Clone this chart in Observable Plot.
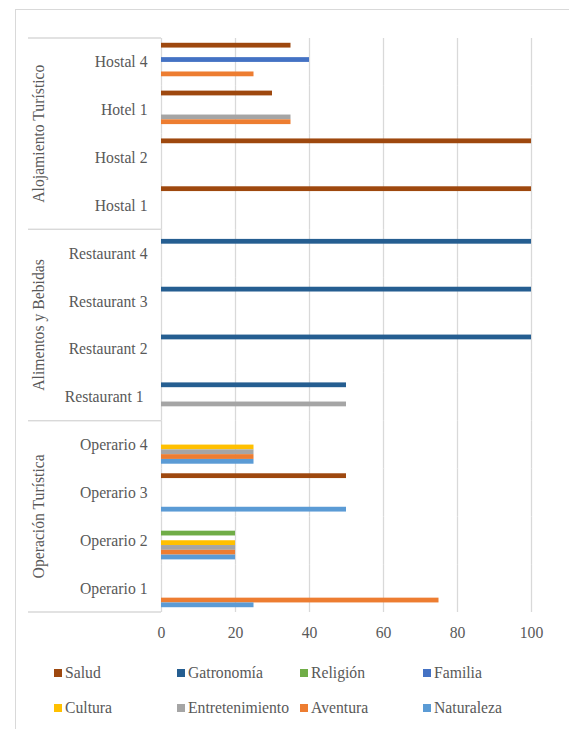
<!DOCTYPE html>
<html>
<head>
<meta charset="utf-8">
<script src="https://cdn.jsdelivr.net/npm/d3@7"></script>
<script src="https://cdn.jsdelivr.net/npm/@observablehq/plot@0.6"></script>
<style>
  html, body { margin: 0; padding: 0; background: #fff; }
  body { width: 569px; height: 729px; overflow: hidden; position: relative; }
  #border { position: absolute; left: 15px; top: 9px; width: 620px; height: 800px; border: 1px solid #d9d9d9; box-sizing: border-box; }
  #chart { position: absolute; left: 0; top: 0; }
  #legend { position: absolute; left: 54px; top: 663px; display: grid; grid-template-columns: repeat(4, 123px); row-gap: 15px;
            font-family: "Liberation Serif", "Times New Roman", serif; font-size: 15.7px; color: #595959; }
  .item { display: flex; align-items: center; height: 20px; white-space: nowrap; }
  .sw { width: 8px; height: 8px; margin-right: 3px; flex: none; }
</style>
</head>
<body>
<div id="border"></div>
<div id="chart"></div>
<div id="legend"></div>
<script>
// Categories, top to bottom as drawn
const categories = ["Hostal 4", "Hotel 1", "Hostal 2", "Hostal 1",
  "Restaurant 4", "Restaurant 3", "Restaurant 2", "Restaurant 1",
  "Operario 4", "Operario 3", "Operario 2", "Operario 1"];
const categoryLabels = ["Hostal 4", "Hotel 1", "Hostal 2", "Hostal 1",
  "Restaurant 4", "Restaurant 3", "Restaurant 2", "Restaurant 1\u00a0",
  "Operario 4", "Operario 3", "Operario 2", "Operario 1"];
const groupNames = ["Alojamiento Turístico", "Alimentos y Bebidas", "Operación Turística"];
const groupMembers = [
  ["Hostal 4", "Hotel 1", "Hostal 2", "Hostal 1"],
  ["Restaurant 4", "Restaurant 3", "Restaurant 2", "Restaurant 1"],
  ["Operario 4", "Operario 3", "Operario 2", "Operario 1"]
];
// Series in legend order (top slot to bottom slot inside each category)
const seriesNames = ["Salud", "Gatronomía", "Religión", "Familia", "Cultura", "Entretenimiento", "Aventura", "Naturaleza"];
const seriesColors = ["#9E480E", "#255E91", "#70AD47", "#4472C4", "#FFC000", "#A5A5A5", "#ED7D31", "#5B9BD5"];
// Values aligned with categories
const salud           = [35, 30, 100, 100, 0, 0, 0, 0, 0, 50, 0, 0];
const gatronomia      = [0, 0, 0, 0, 100, 100, 100, 50, 0, 0, 0, 0];
const religion        = [0, 0, 0, 0, 0, 0, 0, 0, 0, 0, 20, 0];
const familia         = [40, 0, 0, 0, 0, 0, 0, 0, 0, 0, 0, 0];
const cultura         = [0, 0, 0, 0, 0, 0, 0, 0, 25, 0, 20, 0];
const entretenimiento = [0, 35, 0, 0, 0, 0, 0, 50, 25, 0, 20, 0];
const aventura        = [25, 35, 0, 0, 0, 0, 0, 0, 25, 0, 20, 75];
const naturaleza      = [0, 0, 0, 0, 0, 0, 0, 0, 25, 50, 20, 25];
const xTicks = [0, 20, 40, 60, 80, 100];

const seriesValues = [salud, gatronomia, religion, familia, cultura, entretenimiento, aventura, naturaleza];
const rows = [];
seriesNames.forEach((s, si) => {
  categories.forEach((c, ci) => {
    const v = seriesValues[si][ci];
    if (v > 0) rows.push({category: c, series: s, value: v});
  });
});
const labelOf = new Map(categories.map((c, i) => [c, categoryLabels[i]]));

const font = "\"Liberation Serif\", \"Times New Roman\", serif";
const textColor = "#595959";
const gridColor = "#d9d9d9";

const plot = Plot.plot({
  width: 569,
  height: 650,
  marginLeft: 161,
  marginRight: 38,
  marginTop: 38,
  marginBottom: 38,
  style: {fontFamily: font, fontSize: "15.7px", color: textColor, background: "transparent", overflow: "visible"},
  facet: {data: rows, y: "category"},
  x: {domain: [0, 100], ticks: xTicks, tickSize: 0, tickPadding: 14, label: null},
  y: {domain: seriesNames, axis: null, paddingInner: 0, paddingOuter: 1, round: false},
  fy: {domain: categories, padding: 0, axis: "left", tickSize: 0, tickPadding: 14, label: null, round: false,
       tickFormat: c => labelOf.get(c)},
  color: {domain: seriesNames, range: seriesColors},
  marks: [
    Plot.ruleX(xTicks, {stroke: gridColor, strokeWidth: 1.3}),
    Plot.barX(rows, {x: "value", y: "series", fill: "series"})
  ]
});
document.getElementById("chart").appendChild(plot);

// Group panel on the left, positioned through Plot's fy scale
const svgEl = plot.tagName.toLowerCase() === "svg" ? plot : plot.querySelector("svg");
const fy = plot.scale("fy");
const svg = d3.select(svgEl);
const panel = svg.append("g");
groupNames.forEach((g, gi) => {
  const mem = groupMembers[gi];
  const top = fy.apply(mem[0]);
  const bottom = fy.apply(mem[mem.length - 1]) + fy.bandwidth;
  [top, bottom].forEach(yy => {
    panel.append("line").attr("x1", 28).attr("x2", 161).attr("y1", yy).attr("y2", yy)
      .attr("stroke", gridColor).attr("stroke-width", 1.3);
  });
  panel.append("text")
    .attr("transform", `translate(44,${(top + bottom) / 2}) rotate(-90)`)
    .attr("text-anchor", "middle")
    .attr("fill", textColor)
    .style("font-family", font)
    .style("font-size", "15.7px")
    .text(g);
});

// Legend (HTML, below the SVG)
const legend = d3.select("#legend");
seriesNames.forEach((s, i) => {
  const it = legend.append("div").attr("class", "item");
  it.append("span").attr("class", "sw").style("background", seriesColors[i]);
  it.append("span").text(s);
});
</script>
</body>
</html>
